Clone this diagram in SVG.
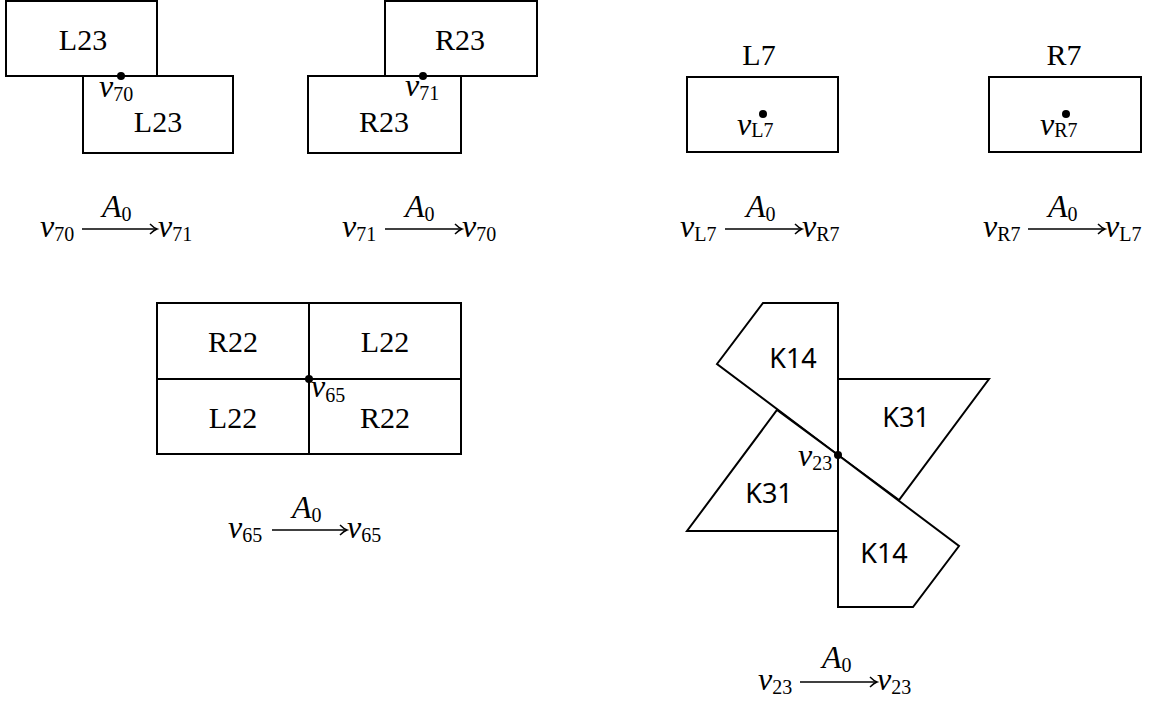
<svg xmlns="http://www.w3.org/2000/svg" width="1152" height="701" viewBox="0 0 1152 701">
<defs>
<style>
.box{fill:#fff;stroke:#000;stroke-width:2}
.ln{fill:none;stroke:#000;stroke-width:2}
.lbl{font-family:"Liberation Serif",serif;font-size:30px;text-anchor:middle}
.k{font-family:"Noto Sans",sans-serif;font-size:27px;text-anchor:middle}
.m{font-family:"Liberation Serif",serif;font-size:32px;font-style:italic}
.s{font-style:normal;font-size:20px}
.arr{stroke:#000;stroke-width:1.6;fill:none;marker-end:url(#ah)}
.dot{fill:#000}
</style>
<marker id="ah" markerUnits="userSpaceOnUse" markerWidth="14" markerHeight="14" viewBox="-10 -7 12 14" refX="0" refY="0" orient="auto">
<path d="M -7 -5 Q -3 -1 0 0 Q -3 1 -7 5" fill="none" stroke="#000" stroke-width="1.5"/>
</marker>
</defs>
<rect width="1152" height="701" fill="#fff"/>

<g id="tl">
<rect class="box" x="6" y="1" width="151" height="75"/>
<rect class="box" x="83" y="76" width="150" height="77"/>
<circle class="dot" cx="121" cy="76" r="4"/>
<text class="lbl" x="83" y="50">L23</text>
<text class="lbl" x="158" y="132">L23</text>
<text class="m" x="99" y="97">v<tspan class="s" dy="4">70</tspan></text>
</g>

<g id="tm">
<rect class="box" x="385" y="1" width="152" height="75"/>
<rect class="box" x="308" y="76" width="153" height="77"/>
<circle class="dot" cx="423" cy="76" r="4"/>
<text class="lbl" x="460" y="50">R23</text>
<text class="lbl" x="384" y="132">R23</text>
<text class="m" x="405" y="96">v<tspan class="s" dy="4">71</tspan></text>
</g>

<g id="l7">
<text class="lbl" x="759" y="65">L7</text>
<rect class="box" x="687" y="77" width="151" height="75"/>
<circle class="dot" cx="763" cy="114" r="4"/>
<text class="m" x="737" y="135">v<tspan class="s" dy="2">L7</tspan></text>
</g>

<g id="r7">
<text class="lbl" x="1064" y="65">R7</text>
<rect class="box" x="989" y="77" width="152" height="75"/>
<circle class="dot" cx="1066" cy="114" r="4"/>
<text class="m" x="1040" y="135">v<tspan class="s" dy="2">R7</tspan></text>
</g>

<g id="grid">
<rect class="box" x="157" y="303" width="304" height="151"/>
<line class="ln" x1="309" y1="303" x2="309" y2="454"/>
<line class="ln" x1="157" y1="379" x2="461" y2="379"/>
<circle class="dot" cx="309" cy="379" r="4"/>
<text class="lbl" x="233" y="352">R22</text>
<text class="lbl" x="385" y="352">L22</text>
<text class="lbl" x="233" y="428">L22</text>
<text class="lbl" x="385" y="428">R22</text>
<text class="m" x="311" y="397">v<tspan class="s" dy="5">65</tspan></text>
</g>

<g id="pin">
<polygon class="box" points="763,303 838,303 838,455 717,364"/>
<polygon class="box" points="838,379 989,379 899,500 838,455"/>
<polygon class="box" points="838,531 687,531 777,410 838,455"/>
<polygon class="box" points="838,455 959,546 913,607 838,607"/>
<circle class="dot" cx="838" cy="455" r="4"/>
<text class="k" x="793" y="368">K14</text>
<text class="k" x="906" y="427">K31</text>
<text class="k" x="769" y="503">K31</text>
<text class="k" x="884" y="563">K14</text>
<text class="m" x="798" y="466">v<tspan class="s" dy="4">23</tspan></text>
</g>

<g id="connectors">
<g id="e1">
<text class="m" x="40" y="237">v<tspan class="s" dy="4">70</tspan></text>
<line class="arr" x1="82" y1="229" x2="157" y2="229"/>
<text class="m" x="102" y="217">A<tspan class="s" dy="4">0</tspan></text>
<text class="m" x="158" y="237">v<tspan class="s" dy="4">71</tspan></text>
</g>
<g id="e2">
<text class="m" x="342" y="237">v<tspan class="s" dy="4">71</tspan></text>
<line class="arr" x1="385" y1="229" x2="462" y2="229"/>
<text class="m" x="405" y="217">A<tspan class="s" dy="4">0</tspan></text>
<text class="m" x="462" y="237">v<tspan class="s" dy="4">70</tspan></text>
</g>
<g id="e3">
<text class="m" x="680" y="237">v<tspan class="s" dy="4">L7</tspan></text>
<line class="arr" x1="725" y1="229" x2="802" y2="229"/>
<text class="m" x="746" y="217">A<tspan class="s" dy="4">0</tspan></text>
<text class="m" x="802" y="237">v<tspan class="s" dy="4">R7</tspan></text>
</g>
<g id="e4">
<text class="m" x="983" y="237">v<tspan class="s" dy="4">R7</tspan></text>
<line class="arr" x1="1028" y1="229" x2="1105" y2="229"/>
<text class="m" x="1048" y="217">A<tspan class="s" dy="4">0</tspan></text>
<text class="m" x="1105" y="237">v<tspan class="s" dy="4">L7</tspan></text>
</g>
<g id="e5">
<text class="m" x="228" y="538">v<tspan class="s" dy="4">65</tspan></text>
<line class="arr" x1="272" y1="530" x2="347" y2="530"/>
<text class="m" x="292" y="518">A<tspan class="s" dy="4">0</tspan></text>
<text class="m" x="347" y="538">v<tspan class="s" dy="4">65</tspan></text>
</g>
<g id="e6">
<text class="m" x="758" y="690">v<tspan class="s" dy="4">23</tspan></text>
<line class="arr" x1="800" y1="682" x2="877" y2="682"/>
<text class="m" x="822" y="668">A<tspan class="s" dy="4">0</tspan></text>
<text class="m" x="877" y="690">v<tspan class="s" dy="4">23</tspan></text>
</g>
</g>
</svg>
